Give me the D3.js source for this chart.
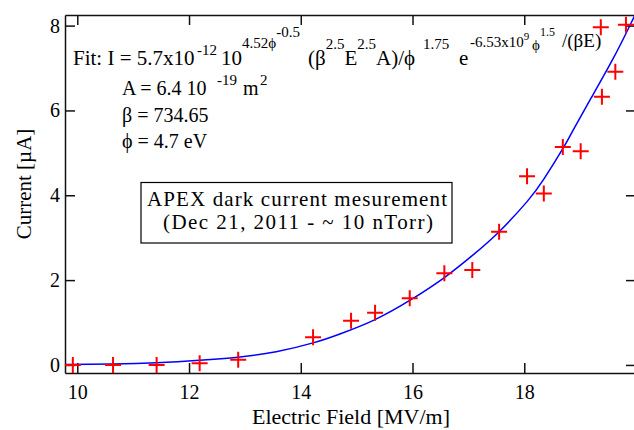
<!DOCTYPE html>
<html>
<head>
<meta charset="utf-8">
<script src="https://cdn.jsdelivr.net/npm/d3@7"></script>
<style>
    body { margin: 0; background: #fff; }
    svg { display: block; font-family: "Liberation Serif", "Times New Roman", serif; }
    .axis path, .axis line { stroke: #111; stroke-width: 1.5; }
    .axis text { font-size: 20px; fill: #000; font-family: "Liberation Serif", serif; }
    .axis-title { text-anchor: middle; }
    .fit-line { fill: none; stroke: #0000ff; stroke-width: 1.5; }
    .symbol { fill: none; stroke: #ff0000; stroke-width: 2; }
    .note { font-size: 20px; }
</style>
</head>
<body>
<svg id="chart" width="634" height="430"></svg>
<script>
// measured points (MV/m, uA)
const fieldData = [9.92, 10.64, 11.42, 12.19, 12.88, 14.22, 14.90, 15.33, 15.95, 16.57,
    17.07, 17.55, 18.05, 18.35, 18.69, 19.01, 19.39, 19.63, 19.37, 19.82];
const currentData = [0.0, 0.0, 0.0, 0.04, 0.12, 0.65, 1.04, 1.23, 1.57, 2.16,
    2.24, 3.14, 4.45, 4.04, 5.14, 5.04, 6.32, 6.91, 7.96, 8.02];

// fit curve
const fitField = [9.78, 10.64, 11.42, 12.19, 12.91, 13.56, 14.22, 14.70, 15.33, 15.95,
    16.57, 17.09, 17.55, 18.05, 18.35, 18.69, 18.88, 19.20, 19.59, 19.86, 20.0];
const fitCurrent = [0.01, 0.02, 0.05, 0.11, 0.19, 0.31, 0.52, 0.73, 1.07, 1.52,
    2.06, 2.60, 3.14, 3.85, 4.38, 5.10, 5.55, 6.30, 7.22, 7.92, 8.30];

const xTicks = [10, 12, 14, 16, 18];
const yTicks = [0, 2, 4, 6, 8];
const xDomain = [9.78, 20];
const yDomain = [-0.19, 8.25];

class FitPlot {

    constructor(_config) {
        this.config = {
            parentElement: _config.parentElement,
            containerWidth: _config.containerWidth || 634,
            containerHeight: _config.containerHeight || 430,
            margin: _config.margin || { top: 15, right: -2, bottom: 57, left: 65 },
        }
        this.initVis();
    }

    initVis() {
        let vis = this;

        vis.width = vis.config.containerWidth - vis.config.margin.left - vis.config.margin.right;
        vis.height = vis.config.containerHeight - vis.config.margin.top - vis.config.margin.bottom;

        vis.xScale = d3.scaleLinear().domain(xDomain).range([0, vis.width]);
        vis.yScale = d3.scaleLinear().domain(yDomain).range([vis.height, 0]);

        vis.svg = d3.select(vis.config.parentElement);

        vis.chart = vis.svg.append('g')
            .attr('transform', `translate(${vis.config.margin.left},${vis.config.margin.top})`);

        vis.chart.append('clipPath')
            .attr('id', 'plot-clip')
            .append('rect')
            .attr('width', vis.width)
            .attr('height', vis.height);

        // axes, ticks pointing inward on all four sides
        vis.chart.append('g')
            .attr('class', 'axis x-axis')
            .attr('transform', `translate(0,${vis.height})`)
            .call(d3.axisBottom(vis.xScale).tickValues(xTicks).tickSize(-10).tickSizeOuter(0).tickPadding(12));

        vis.chart.append('g')
            .attr('class', 'axis x-axis-top')
            .call(d3.axisTop(vis.xScale).tickValues(xTicks).tickSize(-10).tickSizeOuter(0).tickFormat(''));

        vis.chart.append('g')
            .attr('class', 'axis y-axis')
            .call(d3.axisLeft(vis.yScale).tickValues(yTicks).tickSize(-10).tickSizeOuter(0).tickPadding(5));

        vis.chart.append('g')
            .attr('class', 'axis y-axis-right')
            .attr('transform', `translate(${vis.width},0)`)
            .call(d3.axisRight(vis.yScale).tickValues(yTicks).tickSize(-10).tickSizeOuter(0).tickFormat(''));

        // axis titles
        vis.svg.append('text')
            .attr('class', 'axis-title')
            .attr('transform', 'translate(31,184) rotate(-90)')
            .style('font-size', '21px')
            .text('Current [µA]');

        vis.svg.append('text')
            .attr('class', 'axis-title')
            .attr('x', 351)
            .attr('y', 424)
            .style('font-size', '22px')
            .text('Electric Field [MV/m]');

        vis.renderVis();
    }

    renderVis() {
        let vis = this;

        const fitPoints = fitField.map((e, i) => [e, fitCurrent[i]]);
        const line = d3.line()
            .x(d => vis.xScale(d[0]))
            .y(d => vis.yScale(d[1]))
            .curve(d3.curveNatural);

        vis.chart.append('path')
            .datum(fitPoints)
            .attr('class', 'fit-line')
            .attr('clip-path', 'url(#plot-clip)')
            .attr('d', line);

        const points = fieldData.map((e, i) => ({ x: e, y: currentData[i] }));
        vis.chart.selectAll('.symbol')
            .data(points)
            .enter()
            .append('path')
            .attr('class', 'symbol')
            .attr('d', 'M-8,0H8M0,-8V8')
            .attr('transform', d => `translate(${vis.xScale(d.x)},${vis.yScale(d.y)})`);

        vis.renderNotes();
    }

    renderNotes() {
        let vis = this;

        // fit formula: [text, x (null = follow on), raise, size]
        const fitParts = [
            ['Fit: I = 5.7x10', 73, 0, 21],
            ['-12', 197, 10, 15],
            ['10', 221, 0, 21],
            ['4.52ϕ', null, 17, 15],
            ['-0.5', null, 28, 15],
            ['(β', 308, 0, 21],
            ['2.5', null, 16, 15],
            ['E', null, 0, 21],
            ['2.5', null, 16, 15],
            ['A)/ϕ', null, 0, 21],
            ['1.75', 423, 16, 15],
            ['e', 459, 0, 21],
            ['-6.53x10', 470, 18, 15],
            ['9', null, 25, 11],
            ['ϕ', 532, 15, 15],
            ['1.5', null, 29, 12],
            ['/(βE)', 562, 18, 19]
        ];
        const fitText = vis.svg.append('text').attr('class', 'note');
        fitParts.forEach(p => {
            const t = fitText.append('tspan')
                .attr('y', 65 - p[2])
                .style('font-size', p[3] + 'px')
                .text(p[0]);
            if (p[1] !== null) t.attr('x', p[1]);
        });

        const paramText = vis.svg.append('text').attr('class', 'note');
        paramText.append('tspan').attr('x', 122).attr('y', 95).text('A = 6.4  10');
        paramText.append('tspan').attr('x', 217).attr('y', 85).style('font-size', '15px').text('-19');
        paramText.append('tspan').attr('x', 243).attr('y', 95).text('m');
        paramText.append('tspan').attr('x', 260).attr('y', 85).style('font-size', '15px').text('2');

        vis.svg.append('text').attr('class', 'note').attr('x', 122).attr('y', 122).text('β = 734.65');
        vis.svg.append('text').attr('class', 'note').attr('x', 122).attr('y', 148).text('ϕ = 4.7 eV');

        // title box
        vis.svg.append('rect')
            .attr('x', 141).attr('y', 182.5)
            .attr('width', 311).attr('height', 60.5)
            .attr('fill', '#fff').attr('stroke', '#000').attr('stroke-width', 1.2);

        vis.svg.append('text').attr('class', 'note').attr('text-anchor', 'middle')
            .style('font-size', '21px')
            .attr('x', 297).attr('y', 206)
            .attr('textLength', 300).attr('lengthAdjust', 'spacing')
            .text('APEX dark current mesurement');
        vis.svg.append('text').attr('class', 'note').attr('text-anchor', 'middle')
            .style('font-size', '21px')
            .attr('x', 298).attr('y', 229)
            .attr('textLength', 270).attr('lengthAdjust', 'spacing')
            .text('(Dec 21, 2011 - ~ 10 nTorr)');
    }
}

new FitPlot({ parentElement: '#chart' });
</script>
</body>
</html>
